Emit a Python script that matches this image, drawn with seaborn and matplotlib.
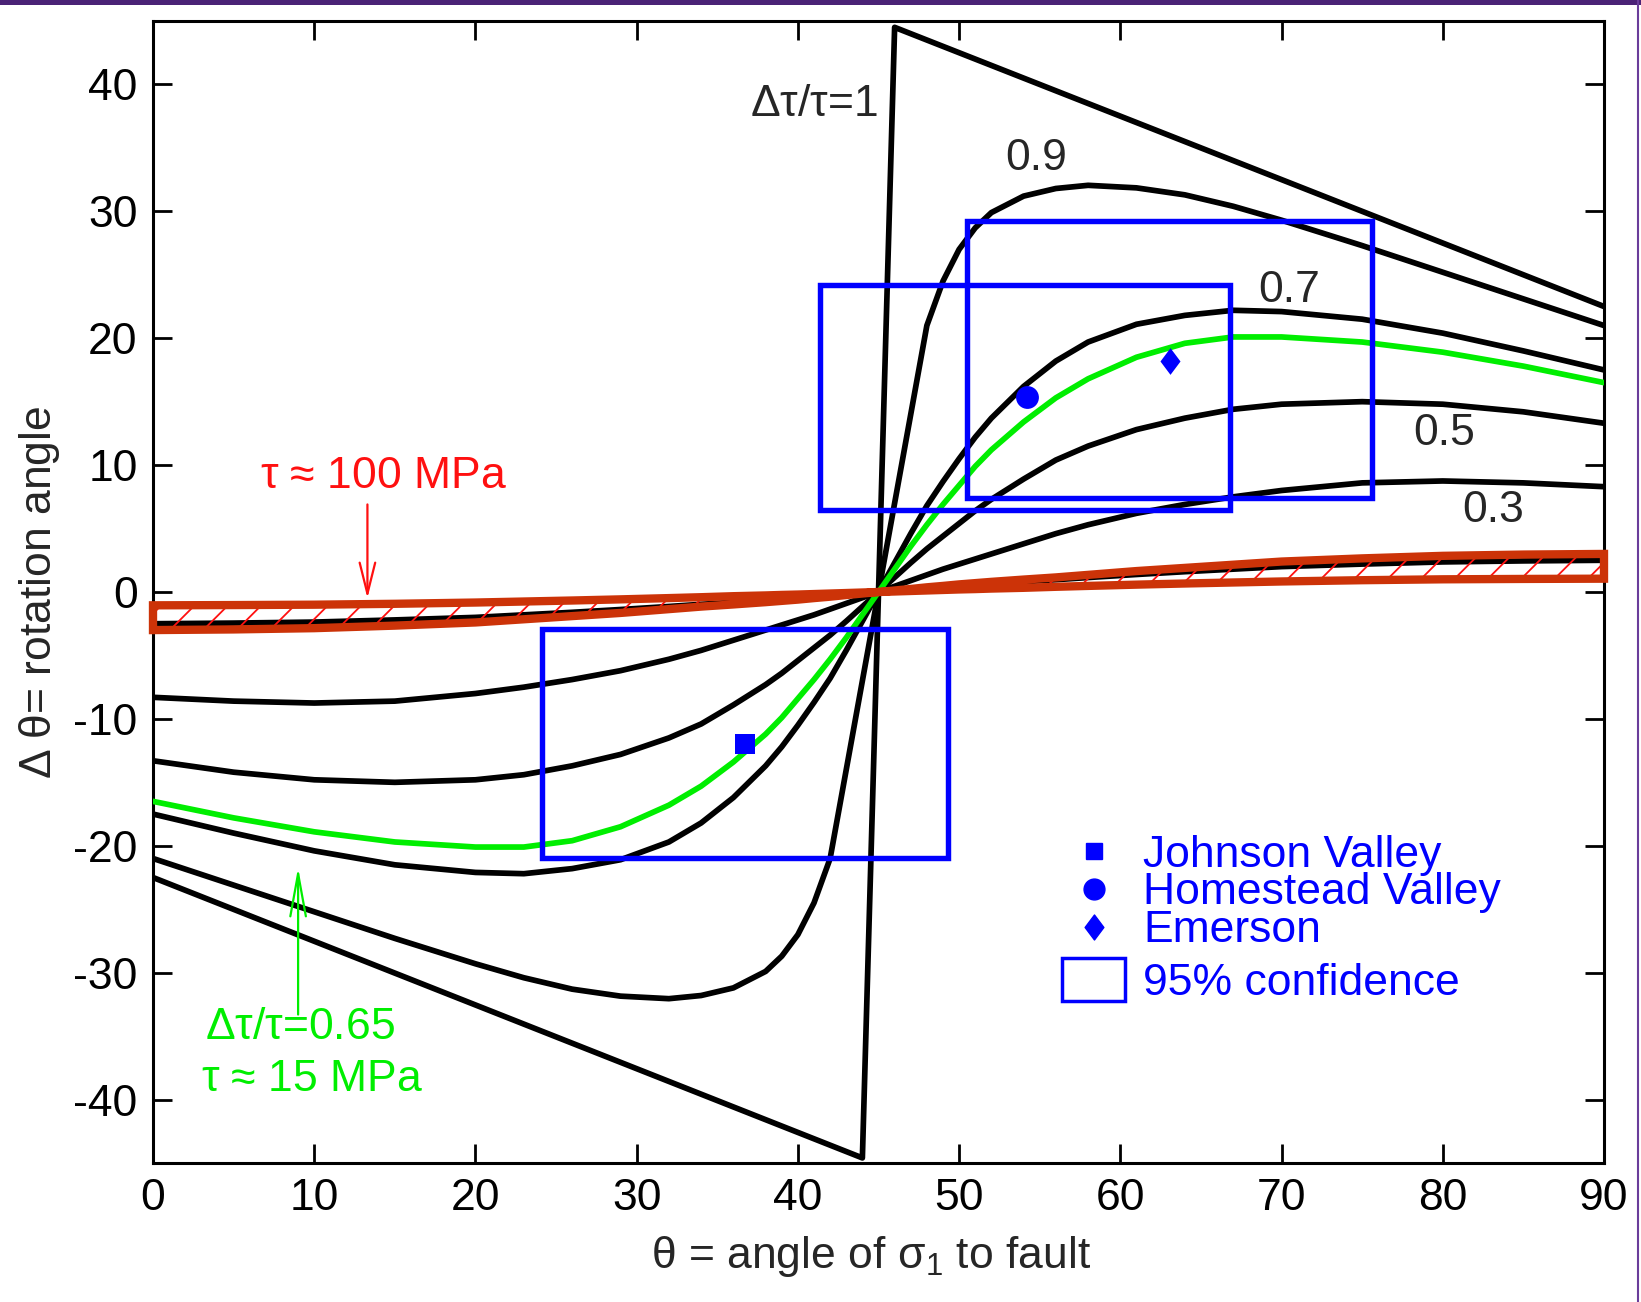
import matplotlib
matplotlib.use("Agg")
import matplotlib.pyplot as plt
import seaborn as sns
import pandas as pd
from matplotlib.patches import Rectangle, Patch
from matplotlib.lines import Line2D
from matplotlib.path import Path

# ---------------- data ----------------
theta = [0, 5, 10, 15, 20, 23, 26, 29, 32, 34, 36, 38, 39, 40, 41, 42, 43, 44, 45,
         46, 47, 48, 49, 50, 51, 52, 54, 56, 58, 61, 64, 67, 70, 75, 80, 85, 90]

r03 = [-8.3, -8.6, -8.75, -8.6, -8.0, -7.5, -6.9, -6.2, -5.3, -4.6, -3.8, -3.0, -2.6, -2.2, -1.8, -1.35, -0.9, -0.45, 0,
       0.45, 0.9, 1.35, 1.8, 2.2, 2.6, 3.0, 3.8, 4.6, 5.3, 6.2, 6.9, 7.5, 8.0, 8.6, 8.75, 8.6, 8.3]
r05 = [-13.3, -14.2, -14.8, -15.0, -14.8, -14.4, -13.7, -12.8, -11.5, -10.4, -8.9, -7.3, -6.4, -5.4, -4.4, -3.4, -2.3, -1.15, 0,
       1.15, 2.3, 3.4, 4.4, 5.4, 6.4, 7.3, 8.9, 10.4, 11.5, 12.8, 13.7, 14.4, 14.8, 15.0, 14.8, 14.2, 13.3]
r07 = [-17.5, -19.0, -20.4, -21.5, -22.1, -22.2, -21.8, -21.1, -19.7, -18.2, -16.2, -13.7, -12.2, -10.5, -8.7, -6.8, -4.6, -2.3, 0,
       2.3, 4.6, 6.8, 8.7, 10.5, 12.2, 13.7, 16.2, 18.2, 19.7, 21.1, 21.8, 22.2, 22.1, 21.5, 20.4, 19.0, 17.5]
r09 = [-21.0, -23.1, -25.2, -27.3, -29.3, -30.4, -31.3, -31.85, -32.05, -31.8, -31.2, -29.9, -28.7, -27.0, -24.5, -21.0, -14.0, -7.0, 0,
       7.0, 14.0, 21.0, 24.5, 27.0, 28.7, 29.9, 31.2, 31.8, 32.05, 31.85, 31.3, 30.4, 29.3, 27.3, 25.2, 23.1, 21.0]
r01 = [-2.5, -2.45, -2.37, -2.2, -2.0, -1.8, -1.6, -1.38, -1.14, -0.97, -0.81, -0.66, -0.58, -0.5, -0.4, -0.31, -0.2, -0.1, 0,
       0.1, 0.2, 0.31, 0.4, 0.5, 0.58, 0.66, 0.81, 0.97, 1.14, 1.38, 1.6, 1.8, 2.0, 2.2, 2.37, 2.45, 2.5]
r065 = [-16.5, -17.8, -18.9, -19.7, -20.1, -20.1, -19.6, -18.5, -16.8, -15.3, -13.4, -11.2, -9.9, -8.4, -6.9, -5.3, -3.6, -1.8, 0,
        1.8, 3.6, 5.3, 6.9, 8.4, 9.9, 11.2, 13.4, 15.3, 16.8, 18.5, 19.6, 20.1, 20.1, 19.7, 18.9, 17.8, 16.5]
r1_theta = [0, 44, 46, 90]
r1 = [-22.5, -44.6, 44.5, 22.5]

# tau ~ 100 MPa band (outer / inner bounding curves)
band_outer = [-3.0, -2.95, -2.85, -2.65, -2.4, -2.15, -1.9, -1.65, -1.35, -1.15, -0.98, -0.8, -0.7, -0.6, -0.48, -0.37, -0.24, -0.12, 0,
              0.12, 0.24, 0.37, 0.48, 0.6, 0.7, 0.8, 0.98, 1.15, 1.35, 1.65, 1.9, 2.15, 2.4, 2.65, 2.85, 2.95, 3.0]
band_inner = [-1.05, -1.03, -1.0, -0.93, -0.83, -0.75, -0.67, -0.58, -0.48, -0.41, -0.33, -0.27, -0.23, -0.2, -0.16, -0.12, -0.08, -0.04, 0,
              0.04, 0.08, 0.12, 0.16, 0.2, 0.23, 0.27, 0.33, 0.41, 0.48, 0.58, 0.67, 0.75, 0.83, 0.93, 1.0, 1.03, 1.05]

# observations
site_names = ["Johnson Valley", "Homestead Valley", "Emerson"]
site_theta = [36.7, 54.2, 63.1]
site_dtheta = [-12.0, 15.4, 18.2]

# 95% confidence boxes
box_theta0 = [24.1, 41.4, 50.5]
box_theta1 = [49.3, 66.8, 75.6]
box_dtheta0 = [-21.0, 6.5, 7.4]
box_dtheta1 = [-2.9, 24.2, 29.2]

xticks = [0, 10, 20, 30, 40, 50, 60, 70, 80, 90]
yticks = [-40, -30, -20, -10, 0, 10, 20, 30, 40]

# ---------------- style ----------------
sns.set_style("ticks")
plt.rcParams["font.family"] = ["Liberation Sans", "DejaVu Sans"]
plt.rcParams["mathtext.fontset"] = "stix"
plt.rcParams["mathtext.default"] = "regular"
plt.rcParams["axes.unicode_minus"] = False
plt.rcParams["hatch.linewidth"] = 1.3

FS = 32
LW = 4.1
BLUE = "#0000ff"
GREEN = "#00ee00"
RED = "#ff1010"
BAND = "#cc3308"

fig = plt.figure(figsize=(16.41, 13.02), dpi=100)
ax = fig.add_axes([153 / 1641, 1 - 1163 / 1302, 1451 / 1641, 1142 / 1302])

# black curves
rows = []
for name, vals, th in [("0.3", r03, theta), ("0.5", r05, theta), ("0.7", r07, theta),
                       ("0.9", r09, theta), ("1", r1, r1_theta), ("0.1", r01, theta)]:
    for t, v in zip(th, vals):
        rows.append({"theta": t, "dtheta": v, "ratio": name})
df = pd.DataFrame(rows)
sns.lineplot(data=df, x="theta", y="dtheta", units="ratio", estimator=None,
             color="black", lw=LW, ax=ax, zorder=2, legend=False)

# green curve
sns.lineplot(x=theta, y=r065, color=GREEN, lw=LW, ax=ax, zorder=3)

# red hatched band
ax.fill_between(theta, band_outer, band_inner, facecolor="none", edgecolor=RED,
                hatch="/", linewidth=0, zorder=3.5)
ax.fill_between(theta, band_outer, band_inner, facecolor="none", edgecolor=BAND,
                linewidth=6, zorder=4, clip_on=False, joinstyle="miter")

# confidence boxes
for x0, x1, y0, y1 in zip(box_theta0, box_theta1, box_dtheta0, box_dtheta1):
    ax.add_patch(Rectangle((x0, y0), x1 - x0, y1 - y0, fill=False, edgecolor=BLUE,
                           lw=3.9, joinstyle="miter", zorder=5))

# site markers
diamond = Path([(0, 1), (0.75, 0), (0, -1), (-0.75, 0), (0, 1)],
               [Path.MOVETO, Path.LINETO, Path.LINETO, Path.LINETO, Path.CLOSEPOLY])
site_markers = ["s", "o", diamond]
site_sizes = [200, 270, 370]
for t, d, m, s in zip(site_theta, site_dtheta, site_markers, site_sizes):
    sns.scatterplot(x=[t], y=[d], marker=m, s=s, color=BLUE, edgecolor=BLUE,
                    linewidth=0, ax=ax, zorder=6, legend=False)

# axes
ax.set_xlim(0, 90)
ax.set_ylim(-45, 45)
ax.set_xticks(xticks)
ax.set_yticks(yticks)
ax.tick_params(direction="in", length=14, width=2, top=True, right=True,
               labelsize=FS, pad=11, colors="black")
for sp in ax.spines.values():
    sp.set_linewidth(2.2)
    sp.set_color("black")
ax.set_xlabel(r"$\theta$ = angle of $\sigma_1$ to fault", fontsize=FS)
ax.set_ylabel(r"$\Delta\ \theta$= rotation angle", fontsize=FS)
ax.xaxis.set_label_coords(0.495, -0.062)
ax.yaxis.set_label_coords(-0.063, 0.5)

# curve labels
ax.text(37.0, 38.4, r"$\Delta\tau/\tau$=1", fontsize=FS, ha="left", va="center")
ax.text(54.8, 34.2, "0.9", fontsize=FS, ha="center", va="center")
ax.text(70.5, 23.8, "0.7", fontsize=FS, ha="center", va="center")
ax.text(80.1, 12.5, "0.5", fontsize=FS, ha="center", va="center")
ax.text(83.1, 6.4, "0.3", fontsize=FS, ha="center", va="center")

# red annotation
ax.text(14.3, 9.1, r"$\tau$ ≈ 100 MPa", fontsize=FS, color=RED, ha="center", va="center")
ax.annotate("", xy=(13.3, -0.5), xytext=(13.3, 6.9),
            arrowprops=dict(arrowstyle="->,head_length=1.6,head_width=0.4", color=RED,
                            lw=1.6, shrinkA=0, shrinkB=0, mutation_scale=14))

# green annotation
ax.text(3.2, -34.3, r"$\Delta\tau/\tau$=0.65", fontsize=FS, color=GREEN, ha="left", va="center")
ax.text(3.0, -38.4, r"$\tau$ ≈ 15 MPa", fontsize=FS, color=GREEN, ha="left", va="center")
ax.annotate("", xy=(9.0, -21.7), xytext=(9.0, -33.3),
            arrowprops=dict(arrowstyle="->,head_length=2.2,head_width=0.4", color=GREEN,
                            lw=1.6, shrinkA=0, shrinkB=0, mutation_scale=14))

# legend
h1 = [Line2D([], [], ls="none", marker="s", ms=11, color=BLUE, mec=BLUE),
      Line2D([], [], ls="none", marker="o", ms=15, color=BLUE, mec=BLUE),
      Line2D([], [], ls="none", marker=diamond, ms=18, color=BLUE, mec=BLUE)]
leg1 = ax.legend(h1, site_names, loc="center left", bbox_to_anchor=(0.6317, 0.2365),
                 frameon=False, fontsize=FS, labelcolor=BLUE, handlelength=1.1,
                 handletextpad=0.55, labelspacing=-0.07, borderpad=0, borderaxespad=0,
                 handleheight=0.7)
ax.add_artist(leg1)
h2 = [Patch(facecolor="none", edgecolor=BLUE, lw=2.5)]
ax.legend(h2, ["95% confidence"], loc="center left", bbox_to_anchor=(0.6265, 0.1594),
          frameon=False, fontsize=FS, labelcolor=BLUE, handlelength=1.42,
          handleheight=1.1, handletextpad=0.4, borderpad=0, borderaxespad=0)

# frame decorations of the original slide
fig.add_artist(Rectangle((0, 1 - 5 / 1302), 1, 5 / 1302, transform=fig.transFigure,
                         facecolor="#4a2276", edgecolor="none"))
fig.add_artist(Line2D([1638 / 1641, 1638 / 1641], [0, 1], transform=fig.transFigure,
                      color="#6a3d9a", lw=1.5))

fig.savefig("out.png", dpi=100)
